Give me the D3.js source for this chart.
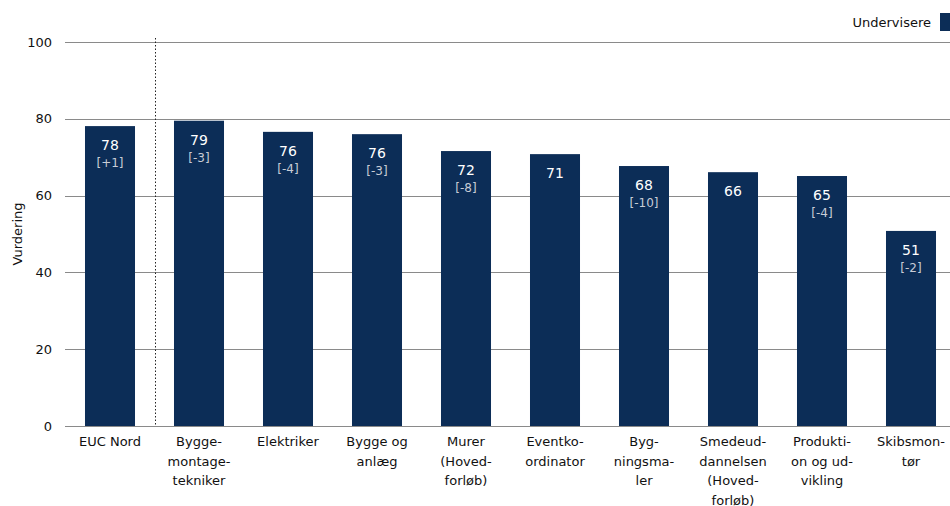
<!DOCTYPE html>
<html><head><meta charset="utf-8">
<script src="https://cdn.jsdelivr.net/npm/d3@7"></script>
<style>body{margin:0;background:#fff}svg{display:block}text{font-family:"DejaVu Sans",sans-serif}</style>
</head><body><svg id="c" width="950" height="506"></svg>
<script>
const categories = [["EUC Nord"],["Bygge-","montage-","tekniker"],["Elektriker"],["Bygge og","anlæg"],["Murer","(Hoved-","forløb)"],["Eventko-","ordinator"],["Byg-","ningsma-","ler"],["Smedeud-","dannelsen","(Hoved-","forløb)"],["Produkti-","on og ud-","vikling"],["Skibsmon-","tør"]];
const values = [78.1, 79.5, 76.6, 76.0, 71.6, 70.8, 67.7, 66.1, 65.1, 50.8];
const valueLabels = ["78","79","76","76","72","71","68","66","65","51"];
const diffLabels = ["[+1]","[-3]","[-4]","[-3]","[-8]","","[-10]","","[-4]","[-2]"];
const yTicks = [0,20,40,60,80,100];
const seriesName = "Undervisere";
const yTitle = "Vurdering";

const svg = d3.select("#c");
const color = "#0c2d57";
const ids = categories.map((c,i)=>i);
const x = d3.scaleBand().domain(ids).range([65.5,955.5]).paddingInner(0.438).paddingOuter(0.219);
const y = d3.scaleLinear().domain([0,100]).range([426,42]);

// gridlines
svg.append("g").selectAll("line").data(yTicks).join("line")
  .attr("x1",65).attr("x2",950).attr("y1",d=>Math.round(y(d))+0.5).attr("y2",d=>Math.round(y(d))+0.5)
  .attr("stroke","#8a8a8a").attr("stroke-width",1);
svg.append("g").selectAll("text").data(yTicks).join("text")
  .attr("x",52).attr("y",d=>y(d)).attr("dy","0.35em").attr("text-anchor","end")
  .attr("font-size",13).attr("fill","#111").text(d=>d);
svg.append("text").attr("transform","translate(22,234) rotate(-90)").attr("text-anchor","middle")
  .attr("font-size",13).attr("fill","#111").text(yTitle);

// bars
svg.append("g").selectAll("rect").data(values).join("rect")
  .attr("x",(d,i)=>x(i)).attr("width",x.bandwidth())
  .attr("y",d=>y(d)).attr("height",d=>y(0)-y(d)).attr("fill",color);

// dotted separator
const sepX = Math.round((x(0)+x.bandwidth()+x(1))/2)+0.5;
svg.append("line").attr("x1",sepX).attr("x2",sepX).attr("y1",38).attr("y2",426)
  .attr("stroke","#222").attr("stroke-width",1).attr("stroke-dasharray","1.5,2");

// value labels
svg.append("g").selectAll("text").data(values).join("text")
  .attr("x",(d,i)=>x(i)+x.bandwidth()/2).attr("y",d=>y(d)+19).attr("dy","0.35em")
  .attr("text-anchor","middle").attr("font-size",14).attr("fill","#fff").text((d,i)=>valueLabels[i]);
svg.append("g").selectAll("text").data(values).join("text")
  .attr("x",(d,i)=>x(i)+x.bandwidth()/2).attr("y",d=>y(d)+37).attr("dy","0.35em")
  .attr("text-anchor","middle").attr("font-size",12).attr("fill","#c8ccd6").text((d,i)=>diffLabels[i]);

// x labels
const xl = svg.append("g").selectAll("text").data(categories).join("text")
  .attr("x",(d,i)=>x(i)+x.bandwidth()/2).attr("y",446).attr("text-anchor","middle")
  .attr("font-size",13).attr("fill","#111");
xl.each(function(d){
  d3.select(this).selectAll("tspan").data(d).join("tspan")
    .attr("x",d3.select(this).attr("x")).attr("dy",(t,j)=>j===0?0:19.5).text(t=>t);
});

// legend
svg.append("rect").attr("x",940).attr("y",13).attr("width",14).attr("height",18).attr("fill",color);
svg.append("text").attr("x",931).attr("y",22).attr("dy","0.35em").attr("text-anchor","end")
  .attr("font-size",13).attr("fill","#111").text(seriesName);
</script></body></html>
